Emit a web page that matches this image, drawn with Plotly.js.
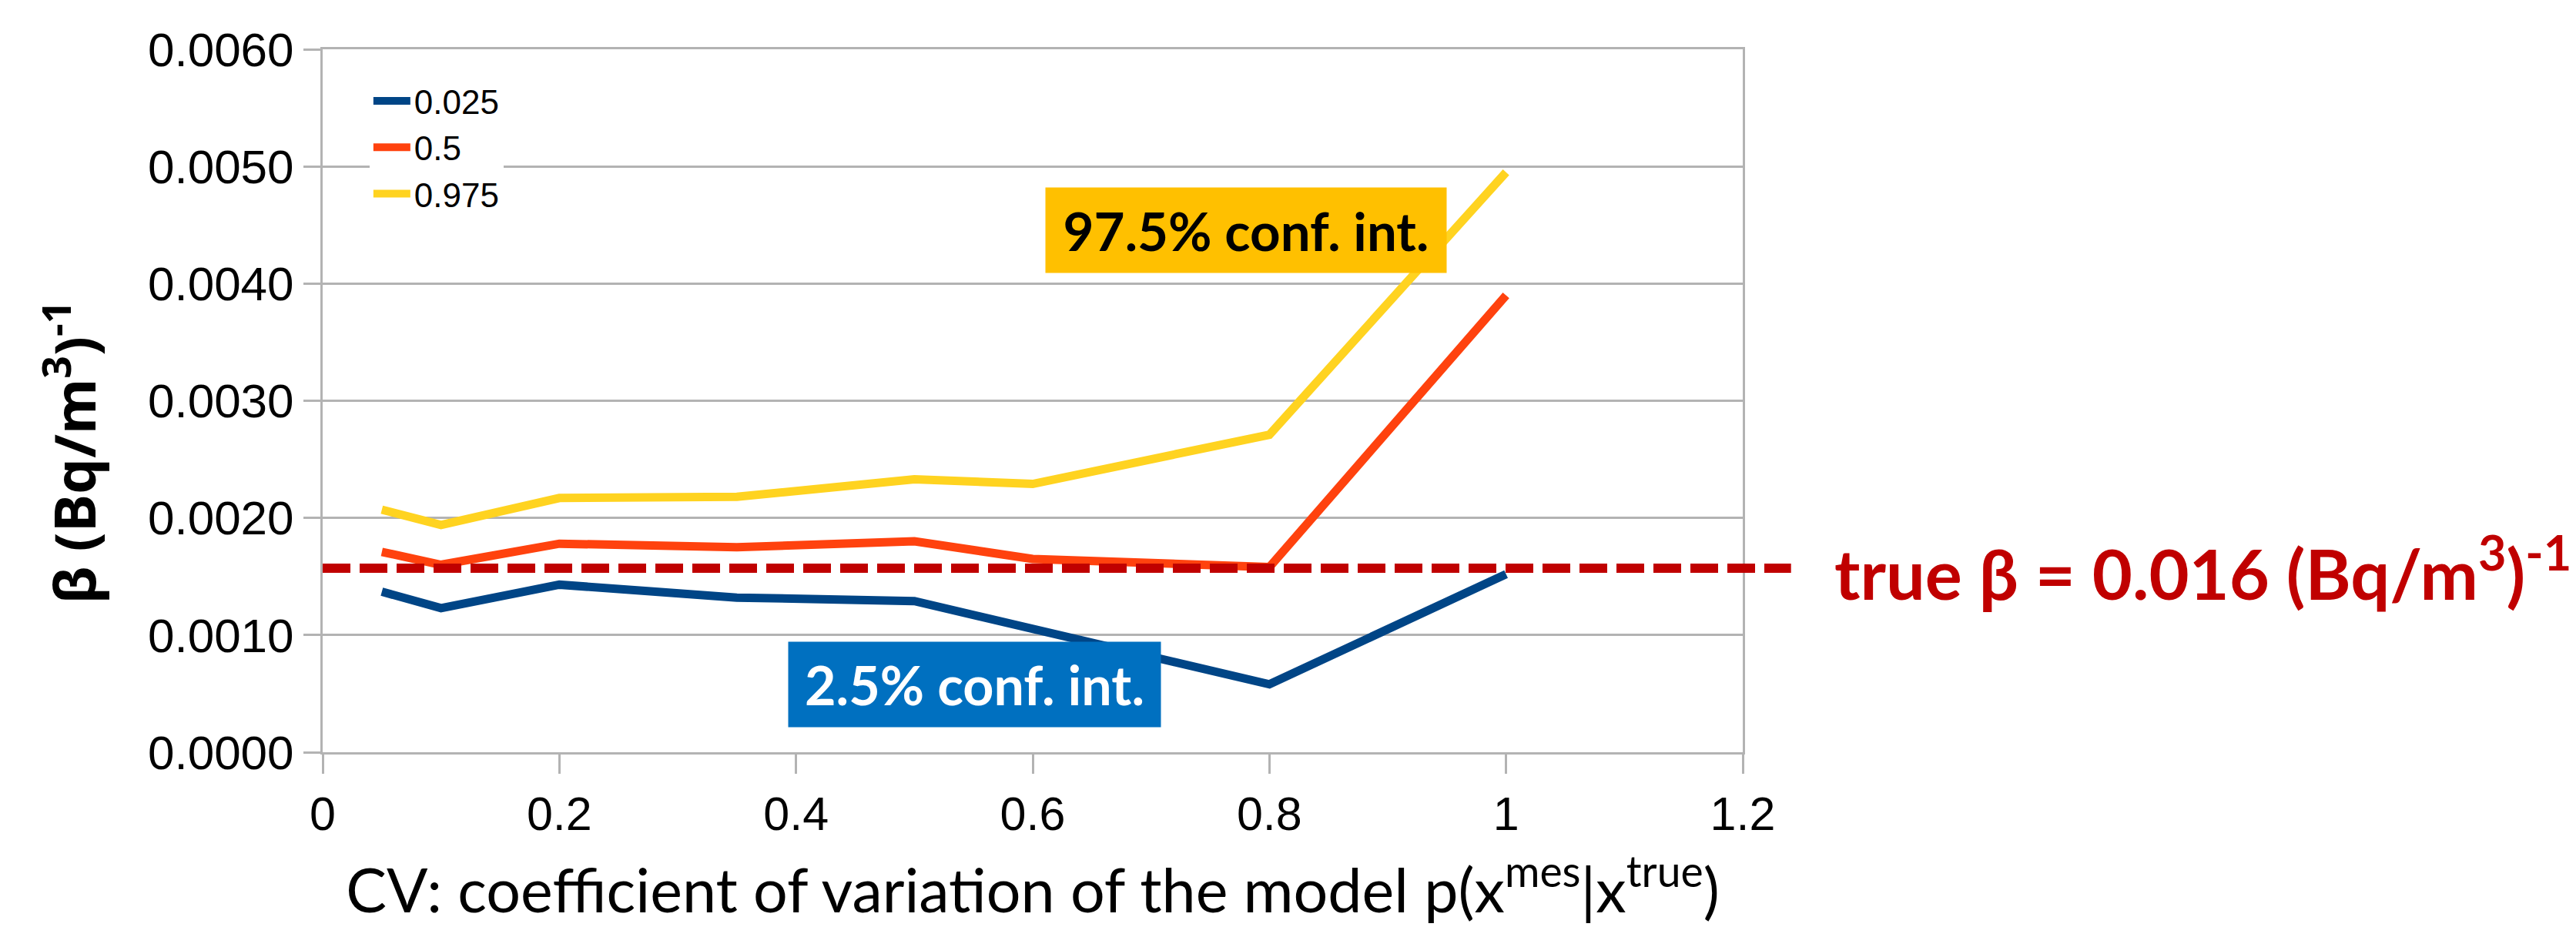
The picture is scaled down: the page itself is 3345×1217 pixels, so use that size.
<!DOCTYPE html>
<html><head><meta charset="utf-8">
<script src="https://cdn.plot.ly/plotly-3.0.1.min.js"></script>
<style>html,body{margin:0;padding:0;background:#fff;} #chart{width:3345px;height:1217px;}</style>
</head><body><div id="chart"></div>
<script>
// CV values (x) and quantiles of beta (y)
const cv = [0.05, 0.1, 0.2, 0.35, 0.5, 0.6, 0.8, 1.0];
const q025 = [0.00137, 0.00123, 0.00143, 0.00132, 0.00129, 0.00105, 0.00058, 0.00152];
const q500 = [0.00171, 0.00160, 0.00178, 0.00175, 0.00180, 0.00165, 0.00158, 0.00390];
const q975 = [0.00207, 0.00194, 0.00217, 0.00218, 0.00233, 0.00229, 0.00271, 0.00495];
const seriesNames = ['0.025', '0.5', '0.975'];
const seriesColors = ['#004586', '#ff420e', '#ffd320'];
const trueBeta = 0.00157;
const trueBetaLabel = 'true β = 0.016 (Bq/m<sup>3</sup>)<sup>-1</sup>';
const upperLabel = '97.5% conf. int.';
const lowerLabel = '2.5% conf. int.';
const xTitle = 'CV: coefficient of variation of the model p(x<sup>mes</sup>|x<sup>true</sup>)';
const yTitle = '<b>β (Bq/m<sup>3</sup>)<sup>-1</sup></b>';

const series = [q025, q500, q975];
const traces = series.map((ys, i) => ({
  type: 'scatter', mode: 'lines', x: cv, y: ys, name: seriesNames[i],
  line: {color: seriesColors[i], width: 11}
}));

const grid = '#b3b3b3';
const layout = {
  width: 3345, height: 1217,
  margin: {l: 419, r: 1082, t: 64, b: 240},
  paper_bgcolor: '#fff', plot_bgcolor: '#fff',
  font: {family: 'Liberation Sans, Arial, sans-serif', color: '#000', size: 60},
  showlegend: true,
  legend: {
    x: 0.033, y: 0.965, xanchor: 'left', yanchor: 'top',
    bgcolor: '#fff', borderwidth: 0,
    font: {family: 'Liberation Sans, Arial, sans-serif', size: 44, color: '#000'},
    itemwidth: 48, tracegroupgap: 0
  },
  xaxis: {
    range: [0, 1.2], dtick: 0.2, tick0: 0,
    showgrid: false, zeroline: false,
    showline: true, linecolor: grid, linewidth: 3, mirror: true,
    ticks: 'outside', ticklen: 25, tickwidth: 3, tickcolor: grid,
    tickfont: {family: 'Liberation Sans, Arial, sans-serif', size: 61, color: '#000'},
    title: {text: xTitle, standoff: 40,
      font: {family: 'Lato, Carlito, sans-serif', size: 79, color: '#000'}}
  },
  yaxis: {
    range: [0, 0.006], dtick: 0.001, tick0: 0, tickformat: '.4f',
    showgrid: true, gridcolor: grid, gridwidth: 3, zeroline: false,
    showline: true, linecolor: grid, linewidth: 3, mirror: true,
    ticks: 'outside', ticklen: 22, tickwidth: 3, tickcolor: grid,
    tickfont: {family: 'Liberation Sans, Arial, sans-serif', size: 62, color: '#000'}
  },
  shapes: [{
    type: 'line', xref: 'paper', yref: 'y', x0: 0, x1: 1.034, y0: trueBeta, y1: trueBeta,
    line: {color: '#c00000', width: 12, dash: '36px,12px'}, layer: 'above'
  }],
  annotations: [
    {xref: 'paper', yref: 'paper', x: -0.1776, y: 0.426, xanchor: 'center', yanchor: 'middle',
     text: yTitle, textangle: -90, showarrow: false,
     font: {family: 'Open Sans, sans-serif', size: 74, color: '#000'}},
    {xref: 'paper', yref: 'y', x: 1.0634, y: trueBeta, xanchor: 'left', yanchor: 'middle',
     text: '<b>' + trueBetaLabel + '</b>', showarrow: false,
     font: {family: 'Lato, Carlito, sans-serif', size: 90, color: '#c00000'}},
    {xref: 'x', yref: 'y', x: 0.78, y: 0.004455, xanchor: 'center', yanchor: 'middle',
     text: '<b>' + upperLabel + '</b>', showarrow: false, bgcolor: '#ffc000',
     width: 520, height: 110, borderpad: 0, align: 'center',
     font: {family: 'Lato, Carlito, sans-serif', size: 69, color: '#000'}},
    {xref: 'x', yref: 'y', x: 0.5508, y: 0.000578, xanchor: 'center', yanchor: 'middle',
     text: '<b>' + lowerLabel + '</b>', showarrow: false, bgcolor: '#0070c0',
     width: 483, height: 110, borderpad: 0, align: 'center',
     font: {family: 'Lato, Carlito, sans-serif', size: 70, color: '#fff'}}
  ]
};

Plotly.newPlot('chart', traces, layout, {displayModeBar: false, staticPlot: true});
</script>
</body></html>
